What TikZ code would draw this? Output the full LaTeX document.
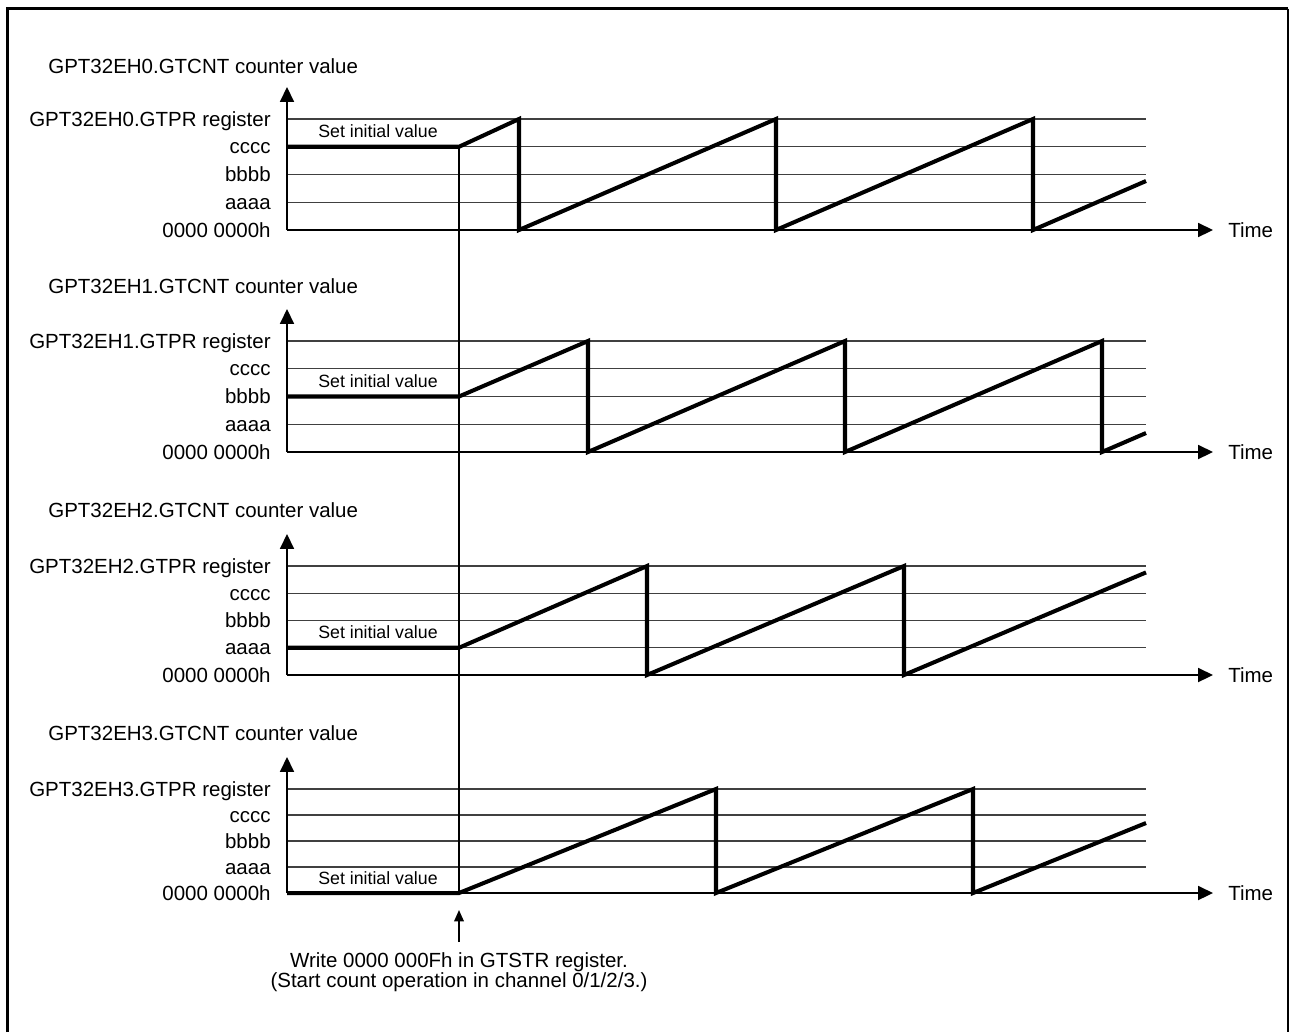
\documentclass[tikz,border=0pt]{standalone}
\usepackage{fontspec}
\setmainfont{Liberation Sans}
\usetikzlibrary{arrows.meta}
\tikzset{gridln/.style={draw=black!75,line width=.6pt},
 axisln/.style={draw=black,line width=.9pt,-{Triangle[length=8.5pt,width=8pt]}},
 count/.style={draw=black,line width=2.3pt,line join=miter},
 startln/.style={draw=black,line width=.9pt},
 lbl/.style={anchor=base east,inner sep=0pt,font=\fontsize{11.66}{14}\selectfont},
 ttl/.style={anchor=base west,inner sep=0pt,font=\fontsize{11.66}{14}\selectfont},
 initlbl/.style={anchor=base,inner sep=0pt,font=\fontsize{10.1}{12}\selectfont},
 note/.style={anchor=north,inner sep=0pt,align=center,font=\fontsize{11.66}{11.4}\selectfont},
 ptr/.style={draw=black,line width=.9pt,-{Triangle[length=6.5pt,width=5.5pt]}}}
\begin{document}
\begin{tikzpicture}[x=0.02cm,y=-0.02cm]
\useasboundingbox (0,0) rectangle (1290,1032);
\draw[line width=1.7pt] (7.5,1032) -- (7.5,8.5) -- (1288,8.5);
\draw[line width=.6pt] (1288,8.5) -- (1288,1032);
% channel 0
\node[ttl] (t0) at (48,73) {GPT32EH0.GTCNT counter value};
\draw[gridln] (287,119) -- (1146,119);
\draw[gridln] (287,146.75) -- (1146,146.75);
\draw[gridln] (287,174.5) -- (1146,174.5);
\draw[gridln] (287,202.25) -- (1146,202.25);
\draw[axisln] (287,230) -- (287,87);
\draw[axisln] (287,230) -- (1213,230);
\node[ttl] (tm0) at (1228,237) {Time};
\node[lbl] (pr0) at (271,126) {GPT32EH0.GTPR register};
\node[lbl] (c0) at (271,153.75) {cccc};
\node[lbl] (b0) at (271,181.5) {bbbb};
\node[lbl] (a0) at (271,209.25) {aaaa};
\node[lbl] (z0) at (271,237) {0000 0000h};
\node[initlbl] (s0) at (378,137.75) {Set initial value};
\draw[count] (287,146.75) -- (459,146.75) -- (519,119) -- (519,230) -- (776,119) -- (776,230) -- (1033,119) -- (1033,230) -- (1146,181);
% channel 1
\node[ttl] (t1) at (48,293) {GPT32EH1.GTCNT counter value};
\draw[gridln] (287,341) -- (1146,341);
\draw[gridln] (287,368.75) -- (1146,368.75);
\draw[gridln] (287,396.5) -- (1146,396.5);
\draw[gridln] (287,424.25) -- (1146,424.25);
\draw[axisln] (287,452) -- (287,309);
\draw[axisln] (287,452) -- (1213,452);
\node[ttl] (tm1) at (1228,459) {Time};
\node[lbl] (pr1) at (271,348) {GPT32EH1.GTPR register};
\node[lbl] (c1) at (271,375.75) {cccc};
\node[lbl] (b1) at (271,403.5) {bbbb};
\node[lbl] (a1) at (271,431.25) {aaaa};
\node[lbl] (z1) at (271,459) {0000 0000h};
\node[initlbl] (s1) at (378,387.5) {Set initial value};
\draw[count] (287,396.5) -- (459,396.5) -- (588,341) -- (588,452) -- (845,341) -- (845,452) -- (1102,341) -- (1102,452) -- (1146,433);
% channel 2
\node[ttl] (t2) at (48,517) {GPT32EH2.GTCNT counter value};
\draw[gridln] (287,566) -- (1146,566);
\draw[gridln] (287,593.25) -- (1146,593.25);
\draw[gridln] (287,620.5) -- (1146,620.5);
\draw[gridln] (287,647.75) -- (1146,647.75);
\draw[axisln] (287,675) -- (287,534);
\draw[axisln] (287,675) -- (1213,675);
\node[ttl] (tm2) at (1228,682) {Time};
\node[lbl] (pr2) at (271,573) {GPT32EH2.GTPR register};
\node[lbl] (c2) at (271,600.25) {cccc};
\node[lbl] (b2) at (271,627.5) {bbbb};
\node[lbl] (a2) at (271,654.75) {aaaa};
\node[lbl] (z2) at (271,682) {0000 0000h};
\node[initlbl] (s2) at (378,638.75) {Set initial value};
\draw[count] (287,647.75) -- (459,647.75) -- (647,566) -- (647,675) -- (904,566) -- (904,675) -- (1146,572.4);
% channel 3
\node[ttl] (t3) at (48,740) {GPT32EH3.GTCNT counter value};
\draw[gridln] (287,789) -- (1146,789);
\draw[gridln] (287,815) -- (1146,815);
\draw[gridln] (287,841) -- (1146,841);
\draw[gridln] (287,867) -- (1146,867);
\draw[axisln] (287,893) -- (287,757);
\draw[axisln] (287,893) -- (1213,893);
\node[ttl] (tm3) at (1228,900) {Time};
\node[lbl] (pr3) at (271,796) {GPT32EH3.GTPR register};
\node[lbl] (c3) at (271,822) {cccc};
\node[lbl] (b3) at (271,848) {bbbb};
\node[lbl] (a3) at (271,874) {aaaa};
\node[lbl] (z3) at (271,900) {0000 0000h};
\node[initlbl] (s3) at (378,884) {Set initial value};
\draw[count] (287,893) -- (459,893) -- (716,789) -- (716,893) -- (973,789) -- (973,893) -- (1146,823);
% start of count
\draw[startln] (459,146.75) -- (459,893);
\coordinate (go) at (459,910);
\node[note] (wr) at (459,952) {Write 0000 000Fh in GTSTR register.\\(Start count operation in channel 0/1/2/3.)};
\draw[ptr] ([yshift=5.7pt]wr.north) -- (go);
\end{tikzpicture}
\end{document}
